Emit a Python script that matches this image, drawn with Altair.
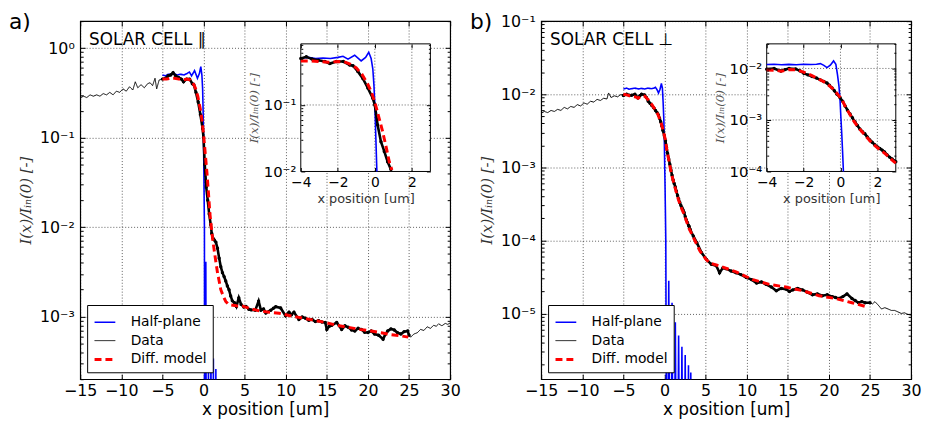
import altair as alt
import pandas as pd

SERIES = ["Half-plane", "Data", "Diff. model"]
COLORS = ["#0000ff", "#000000", "#ff0000"]
DASHES = [[1, 0], [1, 0], [7, 4]]
WIDTHS = [1.6, 1.0, 3.0]

X_TICKS = [-15, -10, -5, 0, 5, 10, 15, 20, 25, 30]
INSET_X_TICKS = [-4, -2, 0, 2]

# ---------------- panel a (SOLAR CELL parallel) ----------------
HALF_A = [(-5.0, 0.50), (-4.6, 0.49), (-4.3, 0.51), (-4.0, 0.51), (-3.6, 0.52), (-3.2, 0.50),
          (-2.8, 0.51), (-2.4, 0.50), (-2.0, 0.52), (-1.72, 0.54), (-1.45, 0.49), (-1.09, 0.56),
          (-0.74, 0.46), (-0.5, 0.52), (-0.33, 0.62), (-0.2, 0.50), (-0.11, 0.35), (-0.05, 0.20),
          (0.0, 0.10), (0.05, 0.035), (0.11, 0.010), (0.17, 1e-9), (0.28, 4.1e-3), (0.42, 1e-9),
          (0.6, 3e-4), (0.75, 1e-9), (0.9, 5.6e-4), (1.05, 1e-9), (1.2, 3.4e-4), (1.35, 1e-9),
          (1.5, 2.6e-4), (1.65, 1e-9)]

DATA_A = [(-15.0, 0.277), (-14.6, 0.29), (-14.2, 0.28), (-13.8, 0.30), (-13.4, 0.29), (-13.0, 0.30),
          (-12.6, 0.29), (-12.2, 0.31), (-11.8, 0.30), (-11.4, 0.32), (-11.0, 0.30), (-10.6, 0.33),
          (-10.2, 0.32), (-9.8, 0.35), (-9.4, 0.33), (-9.0, 0.37), (-8.6, 0.34), (-8.3, 0.42),
          (-8.0, 0.36), (-7.6, 0.39), (-7.2, 0.36), (-6.8, 0.40), (-6.5, 0.41), (-6.2, 0.38),
          (-5.9, 0.46), (-5.7, 0.35), (-5.4, 0.44), (-5.0, 0.45), (-4.6, 0.46), (-4.3, 0.49),
          (-4.0, 0.50), (-3.7, 0.53), (-3.4, 0.49), (-3.05, 0.47), (-2.7, 0.45), (-2.43, 0.42),
          (-2.07, 0.45), (-1.7, 0.45), (-1.36, 0.40), (-1.18, 0.39), (-0.92, 0.32), (-0.65, 0.25),
          (-0.38, 0.18), (-0.11, 0.126), (0.0, 0.10), (0.15, 0.05), (0.33, 0.028), (0.51, 0.020),
          (0.69, 0.014), (0.87, 0.0107), (1.0, 0.0085), (1.15, 0.0075), (1.3, 0.0072), (1.5, 0.0068),
          (1.7, 0.0058), (1.9, 0.0045), (2.1, 0.0036), (2.3, 0.0031), (2.5, 0.0028), (2.7, 0.0025),
          (2.9, 0.0022), (3.1, 0.0020), (3.3, 0.0017), (3.5, 0.0015), (3.77, 0.00143), (4.0, 0.0013),
          (4.29, 0.00162), (4.57, 0.00137), (4.9, 0.00128), (5.17, 0.0013), (5.5, 0.00121),
          (5.78, 0.00119), (6.3, 0.00118), (6.7, 0.00149), (6.98, 0.00118), (7.3, 0.00122),
          (7.58, 0.0011), (8.18, 0.00118), (8.5, 0.00124), (8.78, 0.00129), (9.38, 0.00125),
          (9.98, 0.00102), (10.4, 0.00112), (10.7, 0.00105), (11.0, 0.00112), (11.6, 0.00093),
          (12.0, 0.00099), (12.4, 0.00096), (12.8, 0.00091), (13.2, 0.00093), (13.6, 0.00088),
          (14.0, 0.0009), (14.4, 0.00087), (14.8, 0.00086), (15.0, 0.00072), (15.3, 0.00078),
          (15.6, 0.0008), (16.2, 0.00086), (16.8, 0.00072), (17.2, 0.00079), (17.6, 0.00076),
          (18.0, 0.00071), (18.4, 0.00069), (18.8, 0.00074), (19.2, 0.00072), (19.6, 0.00067),
          (20.0, 0.000665), (20.4, 0.00069), (20.8, 0.00064), (21.3, 0.00062), (21.84, 0.00056),
          (22.1, 0.00063), (22.4, 0.00069), (22.8, 0.00073), (23.2, 0.00071), (23.6, 0.00066),
          (24.0, 0.00064), (24.4, 0.00068), (24.83, 0.00069), (25.0, 0.00062), (25.2, 0.00059),
          (25.6, 0.00064), (26.0, 0.00066), (26.4, 0.00072), (26.8, 0.00070), (27.2, 0.00077),
          (27.6, 0.00074), (28.0, 0.00080), (28.3, 0.00078), (28.6, 0.00083), (29.0, 0.00079),
          (29.4, 0.00084), (29.7, 0.00082), (30.0, 0.00085)]

MODEL_A = [(-5.0, 0.45), (-4.5, 0.45), (-4.0, 0.46), (-3.5, 0.46), (-3.0, 0.45), (-2.5, 0.44),
           (-2.0, 0.45), (-1.6, 0.44), (-1.3, 0.41), (-1.0, 0.36), (-0.7, 0.29), (-0.4, 0.21),
           (-0.2, 0.16), (0.0, 0.11), (0.2, 0.068), (0.42, 0.040), (0.6, 0.024), (0.78, 0.014),
           (0.92, 0.0105), (1.1, 0.0075), (1.3, 0.0055), (1.5, 0.0041), (1.7, 0.0031), (1.9, 0.0025),
           (2.1, 0.0020), (2.4, 0.0017), (2.7, 0.00148), (3.0, 0.00138), (3.3, 0.00135), (4.0, 0.00132),
           (4.77, 0.00131), (5.8, 0.00122), (6.78, 0.00116), (8.0, 0.00112), (9.2, 0.00109),
           (10.4, 0.00103), (11.6, 0.00098), (13.2, 0.00092), (14.8, 0.00086), (16.2, 0.0008),
           (17.6, 0.00076), (19.0, 0.00072), (20.4, 0.00069), (21.6, 0.00066), (22.8, 0.00063),
           (24.0, 0.00061), (24.9, 0.00059)]

Y_DOMAIN_A = [2e-4, 2.0]
Y_TICKS_A = [1e-3, 1e-2, 1e-1, 1.0]
INSET_Y_DOMAIN_A = [0.01, 0.83]
INSET_Y_TICKS_A = [0.01, 0.1]

# ---------------- panel b (SOLAR CELL perpendicular) ----------------
HALF_B = [(-5.0, 0.0118), (-4.6, 0.0121), (-4.3, 0.0117), (-4.0, 0.0119), (-3.6, 0.0121), (-3.2, 0.0118),
          (-2.8, 0.0120), (-2.4, 0.0118), (-2.0, 0.0121), (-1.6, 0.0119), (-1.3, 0.0121), (-1.09, 0.0124),
          (-0.9, 0.0115), (-0.73, 0.0104), (-0.55, 0.0116), (-0.375, 0.0140), (-0.25, 0.0120),
          (-0.16, 0.0075), (-0.08, 0.0045), (-0.02, 0.0023), (0.03, 0.0010), (0.07, 0.00054),
          (0.12, 0.00022), (0.16, 0.00010), (0.3, 1e-9), (0.52, 2.8e-5), (0.72, 1e-9), (0.92, 1.4e-5),
          (1.12, 1e-9), (1.32, 7.6e-6), (1.52, 1e-9), (1.72, 5.0e-6), (1.92, 1e-9), (2.12, 3.5e-6),
          (2.32, 1e-9), (2.52, 2.7e-6), (2.72, 1e-9), (2.92, 1.95e-6), (3.06, 1e-9), (3.2, 1.55e-6),
          (3.35, 1e-9)]

DATA_B = [(-15.0, 0.0055), (-14.6, 0.0058), (-14.2, 0.0056), (-13.8, 0.0060), (-13.4, 0.0058),
          (-13.0, 0.0062), (-12.6, 0.0060), (-12.2, 0.0066), (-11.8, 0.0063), (-11.4, 0.0068),
          (-11.0, 0.0066), (-10.6, 0.0072), (-10.2, 0.0069), (-9.8, 0.0076), (-9.4, 0.0073),
          (-9.0, 0.0080), (-8.6, 0.0078), (-8.2, 0.0085), (-7.8, 0.0082), (-7.4, 0.0088),
          (-7.0, 0.0086), (-6.8, 0.0104), (-6.5, 0.0090), (-6.1, 0.0095), (-5.7, 0.0092),
          (-5.3, 0.0099), (-5.0, 0.0096), (-4.6, 0.0100), (-4.3, 0.0097), (-4.0, 0.0097),
          (-3.6, 0.0100), (-3.23, 0.0089), (-3.0, 0.0095), (-2.79, 0.0100), (-2.43, 0.0098),
          (-2.2, 0.0090), (-1.98, 0.0080), (-1.76, 0.0075), (-1.54, 0.0070), (-1.3, 0.0065),
          (-1.09, 0.0060), (-0.9, 0.0056), (-0.73, 0.0052), (-0.6, 0.0047), (-0.46, 0.0042),
          (-0.33, 0.0037), (-0.2, 0.0032), (-0.02, 0.0027), (0.12, 0.0023), (0.25, 0.00187),
          (0.38, 0.00155), (0.52, 0.0013), (0.65, 0.0011), (0.79, 0.00091), (0.92, 0.00078),
          (1.05, 0.00067), (1.18, 0.0006), (1.32, 0.00054), (1.45, 0.00047), (1.59, 0.00041),
          (1.72, 0.00037), (1.86, 0.00033), (2.0, 0.0003), (2.13, 0.00028), (2.26, 0.00026),
          (2.39, 0.00024), (2.53, 0.00021), (2.66, 0.00019), (2.8, 0.000175), (2.93, 0.00016),
          (3.0, 0.000155), (3.13, 0.000141), (3.5, 0.000115), (3.93, 9.3e-5), (4.5, 6.8e-5),
          (5.1, 5.5e-5), (5.7, 4.7e-5), (6.3, 4.5e-5), (6.7, 3.6e-5), (7.1, 4.2e-5), (7.5, 4.1e-5),
          (8.1, 3.8e-5), (8.7, 3.6e-5), (9.3, 3.4e-5), (9.95, 3.1e-5), (10.6, 2.9e-5), (11.2, 2.6e-5),
          (11.8, 2.7e-5), (12.35, 2.5e-5), (13.0, 2.3e-5), (13.6, 2.05e-5), (14.2, 2.2e-5),
          (14.8, 2.15e-5), (15.2, 2.0e-5), (15.6, 2.1e-5), (16.2, 2.2e-5), (16.8, 2.1e-5),
          (17.4, 1.95e-5), (18.0, 1.8e-5), (18.6, 1.85e-5), (19.2, 1.75e-5), (19.8, 1.8e-5),
          (20.4, 1.7e-5), (20.8, 1.65e-5), (21.2, 1.6e-5), (21.7, 1.7e-5), (22.2, 1.85e-5),
          (22.8, 1.6e-5), (23.2, 1.5e-5), (23.6, 1.4e-5), (24.0, 1.45e-5), (24.4, 1.4e-5),
          (25.0, 1.4e-5), (25.3, 1.35e-5), (25.6, 1.45e-5), (26.0, 1.3e-5), (26.4, 1.15e-5),
          (26.8, 1.2e-5), (27.2, 1.15e-5), (27.6, 1.1e-5), (28.0, 1.1e-5), (28.4, 1.05e-5),
          (28.8, 1.0e-5), (29.2, 1.02e-5), (29.6, 9.7e-6), (30.0, 9.5e-6)]

MODEL_B = [(-5.0, 0.0100), (-4.5, 0.0097), (-4.0, 0.0093), (-3.5, 0.0092), (-3.2, 0.0088), (-2.8, 0.0095),
           (-2.4, 0.0094), (-2.0, 0.0085), (-1.6, 0.0074), (-1.2, 0.0063), (-0.8, 0.0053), (-0.4, 0.0040),
           (-0.1, 0.0030), (0.1, 0.0024), (0.3, 0.0017), (0.5, 0.0013), (0.7, 0.00098), (0.9, 0.00077),
           (1.1, 0.00063), (1.3, 0.00052), (1.5, 0.00043), (1.7, 0.00036), (1.9, 0.00031), (2.1, 0.00027),
           (2.3, 0.00024), (2.5, 0.00021), (2.7, 0.00018), (2.9, 0.000155), (3.0, 0.000145),
           (3.13, 0.000135), (3.6, 0.000105), (4.3, 7.2e-5), (5.0, 5.6e-5), (5.5, 4.9e-5), (6.3, 4.6e-5),
           (7.1, 4.3e-5), (8.7, 3.7e-5), (10.75, 2.9e-5), (12.75, 2.5e-5), (14.76, 2.3e-5),
           (16.8, 2.05e-5), (18.8, 1.75e-5), (20.8, 1.6e-5), (22.8, 1.4e-5), (24.4, 1.25e-5)]

Y_DOMAIN_B = [1.26e-6, 0.1]
Y_TICKS_B = [1e-5, 1e-4, 1e-3, 1e-2, 1e-1]
INSET_Y_DOMAIN_B = [1e-4, 0.03]
INSET_Y_TICKS_B = [1e-4, 1e-3, 1e-2]

W, H = 374, 362
SUPS = "['\u2070','\u00b9','\u00b2','\u00b3','\u2074','\u2075','\u2076','\u2077','\u2078','\u2079']"
LOG_LABEL = ("'10' + (datum.value < 0.999 ? '\u207b' : '') + " + SUPS +
             "[round(abs(log(datum.value) / LN10))]")
YTITLE = "I(x)/I\u1d62\u2099(0) [-]"


def frame(pairs, name=None):
    d = pd.DataFrame(pairs, columns=["x", "y"])
    if name is not None:
        d["series"] = name
    return d


def minor_log(dom):
    out = []
    for e in range(-8, 2):
        for k in range(2, 10):
            v = k * 10.0 ** e
            if dom[0] <= v <= dom[1]:
                out.append(v)
    return out


def tick_layers(xdom, ydom, rx, ry, xvals, ymaj, big, small, z):
    """Inward tick marks on all four sides of a frame, via extra axes."""
    xs = alt.Scale(domain=xdom, range=rx, nice=False, zero=False)
    ys = alt.Scale(type="log", domain=ydom, range=ry, nice=False)

    def ax(orient, vals, size):
        if orient == "bottom":
            off = ry[0] - size - H
        elif orient == "top":
            off = -(ry[1] + size)
        elif orient == "left":
            off = -(rx[0] + size)
        else:
            off = rx[1] - size - W
        return alt.Axis(orient=orient, offset=off, values=vals, tickSize=size, ticks=True, labels=False,
                        domain=False, grid=False, title=None, tickColor="black", tickWidth=1, zindex=z)

    d = pd.DataFrame({"x": [xdom[0]], "y": [ydom[1]]})
    out = []
    for xo, yo in [("bottom", "left"), ("top", "right")]:
        out.append(alt.Chart(d).mark_point(opacity=0).encode(
            x=alt.X("x:Q", scale=xs, axis=ax(xo, xvals, big)),
            y=alt.Y("y:Q", scale=ys, axis=ax(yo, ymaj, big))))
    for yo in ["left", "right"]:
        out.append(alt.Chart(d).mark_point(opacity=0).encode(
            x=alt.X("x:Q", scale=xs, axis=None),
            y=alt.Y("y:Q", scale=ys, axis=ax(yo, minor_log(ydom), small))))
    return out


def panel(tag, label, half, data, model, ydom, yticks, iydom, iyticks, irx, iry):
    leg = alt.Legend(title=None, orient="bottom-left", offset=7, padding=6, strokeColor="black",
                     fillColor="white", cornerRadius=0, labelFontSize=14, labelFont="DejaVu Sans",
                     labelColor="black", symbolType="stroke", symbolSize=440, labelOffset=14,
                     rowPadding=0, labelLimit=200)
    xs = alt.Scale(domain=[-15, 30], nice=False, zero=False)
    ys = alt.Scale(type="log", domain=ydom, nice=False)
    xax = alt.Axis(values=X_TICKS, title="x position [um]", grid=True, gridDash=[1, 2],
                   gridColor="black", gridOpacity=0.8, gridWidth=0.8, domain=False, ticks=False,
                   labelFlush=False, labelFontSize=16, titleFontSize=17, labelPadding=3,
                   titlePadding=4, titleFontWeight="normal", labelColor="black", titleColor="black")
    yax = alt.Axis(values=yticks, labelExpr=LOG_LABEL, title=YTITLE, grid=True, gridDash=[1, 2],
                   gridColor="black", gridOpacity=0.8, gridWidth=0.8, domain=False, ticks=False,
                   labelFontSize=16, labelPadding=6, titlePadding=6, titleFont="DejaVu Serif",
                   titleFontStyle="italic", titleFontWeight="normal", titleFontSize=15,
                   labelColor="black", titleColor="#333333")
    X = alt.X("x:Q", scale=xs, axis=xax)
    Y = alt.Y("y:Q", scale=ys, axis=yax)
    col = alt.Color("series:N", scale=alt.Scale(domain=SERIES, range=COLORS), legend=leg)
    dsh = alt.StrokeDash("series:N", scale=alt.Scale(domain=SERIES, range=DASHES), legend=leg)
    sw = alt.StrokeWidth("series:N", scale=alt.Scale(type="ordinal", domain=SERIES, range=WIDTHS),
                         legend=leg)

    thick = [p for p in data if -5 <= p[0] <= 25]

    m_half = alt.Chart(frame(half, SERIES[0])).mark_line(clip=True).encode(
        x=X, y=Y, color=col, strokeDash=dsh, strokeWidth=sw)
    m_data = alt.Chart(frame(data, SERIES[1])).mark_line(clip=True).encode(
        x=X, y=Y, color=col, strokeDash=dsh, strokeWidth=sw)
    m_thick = alt.Chart(frame(thick)).mark_line(clip=True, color="black", strokeWidth=2.6).encode(x=X, y=Y)
    m_pts = alt.Chart(frame(thick)).mark_circle(clip=True, color="black", size=12, opacity=1).encode(x=X, y=Y)
    m_model = alt.Chart(frame(model, SERIES[2])).mark_line(clip=True).encode(
        x=X, y=Y, color=col, strokeDash=dsh, strokeWidth=sw)
    t_tag = alt.Chart(pd.DataFrame({"t": [tag]})).mark_text(
        align="left", baseline="top", fontSize=22, color="black").encode(
        x=alt.value(-72), y=alt.value(-9), text="t:N")
    t_lab = alt.Chart(pd.DataFrame({"t": [label]})).mark_text(
        align="left", baseline="alphabetic", fontSize=17, color="black").encode(
        x=alt.value(9), y=alt.value(24), text="t:N")
    main = alt.layer(m_half, m_data, m_thick, m_pts, m_model, t_tag, t_lab)

    # ---- inset ----
    ixs = alt.Scale(domain=[-4, 3], range=irx, nice=False, zero=False)
    iys = alt.Scale(type="log", domain=iydom, range=iry, nice=False)
    ixax = alt.Axis(orient="bottom", offset=iry[0] - H, values=INSET_X_TICKS, grid=False, domain=False,
                    ticks=False, labelFlush=False, labelFontSize=14, labelPadding=4, title="x position [um]",
                    titleFontSize=13, titlePadding=3, titleFontWeight="normal", zindex=1,
                    labelColor="black", titleColor="#333333")
    iyax = alt.Axis(orient="left", offset=-irx[0], values=iyticks, labelExpr=LOG_LABEL, grid=False,
                    domain=False, ticks=False, labelFontSize=15, labelPadding=5, title=YTITLE,
                    titleFont="DejaVu Serif", titleFontStyle="italic", titleFontWeight="normal",
                    titleFontSize=12, titlePadding=3, zindex=1, labelColor="black", titleColor="#555555")
    IX = alt.X("x:Q", scale=ixs, axis=ixax)
    IY = alt.Y("y:Q", scale=iys, axis=iyax)

    box = pd.DataFrame({"x": [-4], "x2": [3], "y": [iydom[0]], "y2": [iydom[1]]})
    vgrid = pd.DataFrame({"x": [-2, 0, 2], "y": [iydom[0]] * 3, "y2": [iydom[1]] * 3})
    hvals = [v for v in iyticks if v > iydom[0]]
    hgrid = pd.DataFrame({"y": hvals, "x": [-4] * len(hvals), "x2": [3] * len(hvals)})

    def sub(pairs):
        return frame([p for p in pairs if -4 <= p[0] <= 3 and p[1] >= iydom[0]])

    i_box = alt.Chart(box).mark_rect(fill="white", stroke="black", strokeWidth=1).encode(
        x=IX, x2="x2:Q", y=IY, y2="y2:Q")
    i_vg = alt.Chart(vgrid).mark_rule(color="black", strokeDash=[1, 2], strokeWidth=0.8, opacity=0.8).encode(
        x=IX, y=IY, y2="y2:Q")
    i_hg = alt.Chart(hgrid).mark_rule(color="black", strokeDash=[1, 2], strokeWidth=0.8, opacity=0.8).encode(
        x=IX, x2="x2:Q", y=IY)
    i_half = alt.Chart(sub(half)).mark_line(color="#0000ff", strokeWidth=1.6).encode(x=IX, y=IY)
    i_data = alt.Chart(sub(data)).mark_line(color="black", strokeWidth=2.6).encode(x=IX, y=IY)
    i_pts = alt.Chart(sub(data)).mark_circle(color="black", size=12, opacity=1).encode(x=IX, y=IY)
    i_model = alt.Chart(sub(model)).mark_line(color="#ff0000", strokeWidth=3, strokeDash=[7, 4]).encode(
        x=IX, y=IY)
    inset = alt.layer(i_box, i_vg, i_hg, i_half, i_data, i_pts, i_model)

    main_ticks = tick_layers([-15, 30], ydom, [0, W], [H, 0], X_TICKS, yticks, 5, 3, 0)
    inset_ticks = tick_layers([-4, 3], iydom, irx, iry, INSET_X_TICKS, iyticks, 4, 2, 2)

    return alt.layer(main, inset, *main_ticks, *inset_ticks).resolve_scale(
        x="independent", y="independent").properties(width=W, height=H)


pa = panel("a)", "SOLAR CELL   \u2225", HALF_A, DATA_A, MODEL_A, Y_DOMAIN_A, Y_TICKS_A,
           INSET_Y_DOMAIN_A, INSET_Y_TICKS_A, [223, 354], [152, 23])
pb = panel("b)", "SOLAR CELL  \u22a5", HALF_B, DATA_B, MODEL_B, Y_DOMAIN_B, Y_TICKS_B,
           INSET_Y_DOMAIN_B, INSET_Y_TICKS_B, [228, 358.5], [152, 23])

chart = alt.hconcat(pa, pb, spacing=8).resolve_scale(
    color="independent", strokeDash="independent", strokeWidth="independent"
).resolve_legend(
    color="independent", strokeDash="independent", strokeWidth="independent"
).properties(
    padding={"left": 0, "top": 0, "right": 0, "bottom": 0}, background="white"
).configure(font="DejaVu Sans").configure_view(stroke="black", strokeWidth=1.2)

chart.save("out.html", embed_options={"renderer": "svg", "actions": False})
